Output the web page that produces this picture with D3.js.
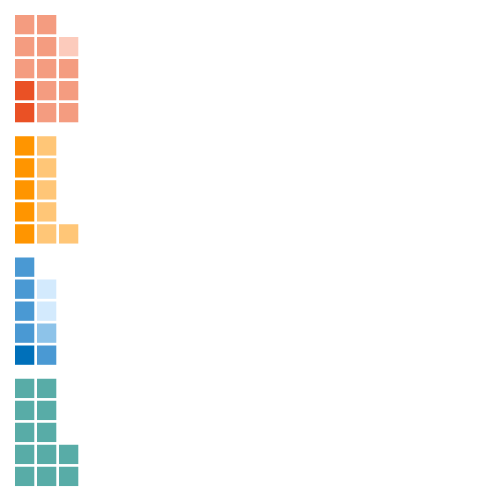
<!DOCTYPE html>
<html><head><meta charset="utf-8">
<script src="https://cdn.jsdelivr.net/npm/d3@7"></script>
<style>html,body{margin:0;padding:0;background:#fff;}</style>
</head><body>
<svg id="chart" width="500" height="500"></svg>
<script>
// Groups (waffle blocks), top to bottom
const groups = ["A", "B", "C", "D"];
// Cell counts per shade, in fill order (bottom-up, column by column)
const groupCounts = [
  [2, 11, 1],
  [5, 6],
  [1, 5, 1, 2],
  [12]
];
const groupColors = [
  ["#EA5125", "#F49C80", "#FCCBBC"],
  ["#FF9500", "#FFC677"],
  ["#0070BA", "#4A99D3", "#8DC3E9", "#D3EAFD"],
  ["#58ACA7"]
];
const rowsPerColumn = 5;
const columns = [0, 1, 2];

const svg = d3.select("#chart");

const x = d3.scaleBand().domain(columns).range([15, 78.3]).paddingInner(0.123).paddingOuter(0);
const yGroup = d3.scaleBand().domain(groups).range([15, 500]);
const rows = d3.range(rowsPerColumn);

groups.forEach((g, gi) => {
  const cells = [];
  let idx = 0;
  groupCounts[gi].forEach((n, si) => {
    for (let k = 0; k < n; k++) {
      cells.push({col: Math.floor(idx / rowsPerColumn), row: idx % rowsPerColumn, color: groupColors[gi][si]});
      idx++;
    }
  });
  const g0 = yGroup(g);
  const yRow = d3.scaleBand().domain(rows.slice().reverse()).range([g0, g0 + 107.3]).paddingInner(0.123).paddingOuter(0);
  svg.append("g").selectAll("rect").data(cells).join("rect")
    .attr("x", d => x(d.col))
    .attr("y", d => yRow(d.row))
    .attr("width", x.bandwidth())
    .attr("height", yRow.bandwidth())
    .attr("fill", d => d.color);
});
</script>
</body></html>
